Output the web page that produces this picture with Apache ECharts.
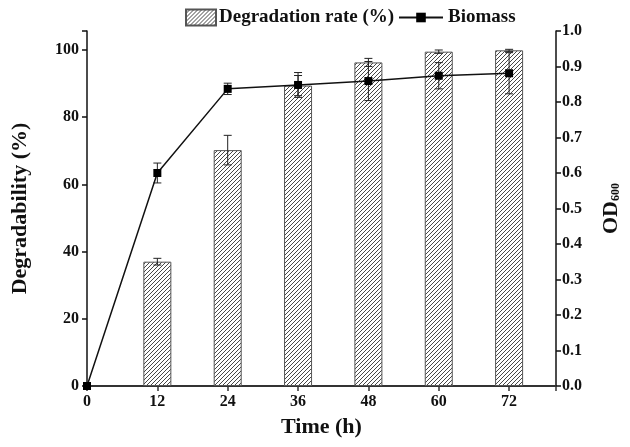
<!DOCTYPE html>
<html>
<head>
<meta charset="utf-8">
<script src="https://cdn.jsdelivr.net/npm/echarts@6/dist/echarts.min.js"></script>
<style>html,body{margin:0;padding:0;background:#fff}#c{width:630px;height:447px}</style>
</head>
<body>
<div id="c"></div>
<script>
const hours = [0, 12, 24, 36, 48, 60, 72];
const degradation = [0, 37.0, 70.2, 89.4, 96.3, 99.5, 99.9];
const degradationErr = [0, 1.0, 4.4, 3.0, 1.2, 0.5, 0.3];
const biomass = [0, 0.60, 0.837, 0.848, 0.859, 0.874, 0.881];
const biomassErr = [0, 0.028, 0.016, 0.035, 0.055, 0.037, 0.058];
const xTicks = [0, 12, 24, 36, 48, 60, 72];
const leftTicks = [0, 20, 40, 60, 80, 100];
const rightTicks = [0, 0.1, 0.2, 0.3, 0.4, 0.5, 0.6, 0.7, 0.8, 0.9, 1.0];

function makePattern() {
  const s = 4;
  const c = document.createElement('canvas');
  c.width = s; c.height = s;
  const ctx = c.getContext('2d');
  ctx.fillStyle = '#ffffff';
  ctx.fillRect(0, 0, s, s);
  ctx.strokeStyle = '#333333';
  ctx.lineWidth = 0.9;
  ctx.beginPath();
  ctx.moveTo(-1, s + 1); ctx.lineTo(s + 1, -1);
  ctx.moveTo(-1, 1); ctx.lineTo(1, -1);
  ctx.moveTo(s - 1, s + 1); ctx.lineTo(s + 1, s - 1);
  ctx.stroke();
  return c;
}
const pattern = { image: makePattern(), repeat: 'repeat' };

const font = 'Liberation Serif';
const barData = [], barErr = [], lineData = [], lineErr = [];
hours.forEach((h, i) => {
  if (degradation[i] > 0) {
    barData.push([h, degradation[i]]);
    barErr.push([h, degradation[i] - degradationErr[i], degradation[i] + degradationErr[i]]);
  }
  lineData.push([h, biomass[i]]);
  if (biomassErr[i] > 0) lineErr.push([h, biomass[i] - biomassErr[i], biomass[i] + biomassErr[i]]);
});

function errRender(cap) {
  return function (params, api) {
    const x = api.value(0), lo = api.value(1), hi = api.value(2);
    const p1 = api.coord([x, lo]), p2 = api.coord([x, hi]);
    const st = { stroke: '#222', lineWidth: 1 };
    return {
      type: 'group',
      children: [
        { type: 'line', shape: { x1: p1[0], y1: p1[1], x2: p2[0], y2: p2[1] }, style: st },
        { type: 'line', shape: { x1: p1[0] - cap, y1: p1[1], x2: p1[0] + cap, y2: p1[1] }, style: st },
        { type: 'line', shape: { x1: p2[0] - cap, y1: p2[1], x2: p2[0] + cap, y2: p2[1] }, style: st }
      ]
    };
  };
}

const chart = echarts.init(document.getElementById('c'), null, { renderer: 'canvas' });
const axisLabelStyle = { fontFamily: font, fontWeight: 'bold', fontSize: 16, color: '#111' };
chart.setOption({
  animation: false,
  backgroundColor: '#fff',
  textStyle: { fontFamily: font },
  legend: [
    {
      data: [{ name: 'Degradation rate (%)', icon: 'rect' }],
      left: 180, top: 3,
      itemWidth: 30, itemHeight: 16, itemGap: 4,
      textStyle: { fontFamily: font, fontWeight: 'bold', fontSize: 19, color: '#111', padding: [0, 0, 0, -2] }
    },
    {
      data: ['Biomass'],
      left: 393, top: 3,
      itemWidth: 44, itemHeight: 12,
      textStyle: { fontFamily: font, fontWeight: 'bold', fontSize: 19, color: '#111' }
    }
  ],
  grid: { left: 87, right: 72, top: 31, bottom: 61 },
  xAxis: {
    type: 'value', min: 0, max: 80, interval: 12,
    name: 'Time (h)', nameLocation: 'middle', nameGap: 30,
    nameTextStyle: { fontFamily: font, fontWeight: 'bold', fontSize: 22, color: '#111' },
    axisLine: { onZero: false, lineStyle: { color: '#333', width: 2 } },
    axisTick: { show: true, length: 5, lineStyle: { color: '#333', width: 1.5 } },
    axisLabel: Object.assign({ margin: 8, formatter: v => xTicks.includes(v) ? String(v) : '' }, axisLabelStyle),
    splitLine: { show: false }
  },
  yAxis: [
    {
      type: 'value', min: 0, max: 105.65, interval: 20, position: 'left',
      name: 'Degradability (%)', nameLocation: 'middle', nameGap: 56, nameRotate: 90,
      nameTextStyle: { fontFamily: font, fontWeight: 'bold', fontSize: 22, color: '#111' },
      axisLine: { show: true, lineStyle: { color: '#111', width: 1.5 } },
      axisTick: { show: true, length: 5, lineStyle: { color: '#111', width: 1.5 } },
      axisLabel: Object.assign({ margin: 8, formatter: v => leftTicks.includes(v) ? String(v) : '' }, axisLabelStyle),
      splitLine: { show: false }
    },
    {
      type: 'value', min: 0, max: 1, interval: 0.1, position: 'right',
      name: '{a|OD}{b|600}', nameLocation: 'middle', nameGap: 44, nameRotate: 90,
      nameTextStyle: {
        rich: {
          a: { fontFamily: font, fontWeight: 'bold', fontSize: 22, color: '#111' },
          b: { fontFamily: font, fontWeight: 'bold', fontSize: 12, color: '#111', verticalAlign: 'bottom', padding: [9, 0, 0, 0] }
        }
      },
      axisLine: { show: true, lineStyle: { color: '#111', width: 1.5 } },
      axisTick: { show: true, length: 5, lineStyle: { color: '#111', width: 1.5 } },
      axisLabel: Object.assign({ margin: 6, formatter: v => rightTicks.some(t => Math.abs(t - v) < 1e-6) ? v.toFixed(1) : '' }, axisLabelStyle),
      splitLine: { show: false }
    }
  ],
  series: [
    {
      name: 'Degradation rate (%)', type: 'bar', yAxisIndex: 0,
      data: barData, barWidth: 28,
      itemStyle: { color: pattern, borderColor: '#555', borderWidth: 1 },
      z: 2
    },
    {
      type: 'custom', yAxisIndex: 0, data: barErr, renderItem: errRender(4), z: 3, silent: true
    },
    {
      type: 'custom', yAxisIndex: 1, data: lineErr, renderItem: errRender(4), z: 4, silent: true
    },
    {
      name: 'Biomass', type: 'line', yAxisIndex: 1, data: lineData,
      symbol: 'rect', symbolSize: 8, showAllSymbol: true,
      lineStyle: { color: '#111', width: 1.5 },
      itemStyle: { color: '#000' },
      z: 5
    }
  ]
});
</script>
</body>
</html>
